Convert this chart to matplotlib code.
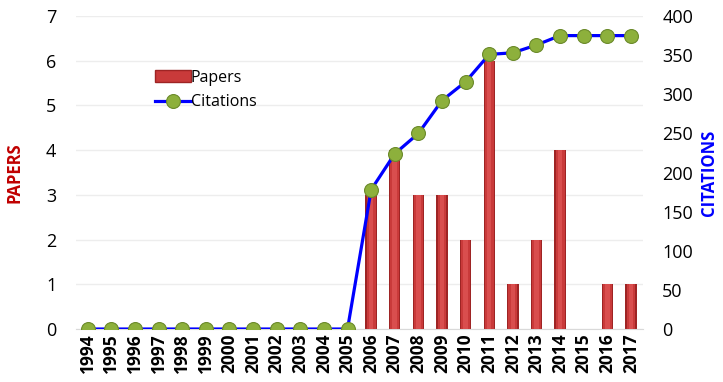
import matplotlib
matplotlib.use("Agg")
import matplotlib.pyplot as plt
import numpy as np
from matplotlib.patches import Patch
from matplotlib.lines import Line2D

years = [str(y) for y in range(1994, 2018)]
papers = [0, 0, 0, 0, 0, 0, 0, 0, 0, 0, 0, 0, 3, 4, 3, 3, 2, 6, 1, 2, 4, 0, 1, 1]
citations = [0, 0, 0, 0, 0, 0, 0, 0, 0, 0, 0, 0, 178, 224, 250, 292, 316, 351, 353, 363, 375, 375, 375, 375]
papers_ticks = list(range(0, 8))
citation_ticks = list(range(0, 401, 50))

font = "Open Sans"
fig = plt.figure(figsize=(7.23, 3.82), dpi=100)
ax = fig.add_axes([0.105, 0.1387, 0.784, 0.8193])
ax2 = ax.twinx()

x = np.arange(len(years))
w = 0.48
# bevelled bars: dark rim, red body, light core
ax.bar(x, papers, width=w, color="#9E2424", zorder=2)
ax.bar(x, papers, width=w * 0.78, color="#C93A3A", zorder=3)
ax.bar(x, papers, width=w * 0.4, color="#D94E4E", zorder=4)

ax.set_xlim(-0.5, len(years) - 0.5)
ax.set_ylim(0, 7)
ax.set_yticks(papers_ticks)
ax.yaxis.grid(True, color="#EDEDED", linewidth=1)
ax.set_axisbelow(True)
for s in ["top", "right", "left"]:
    ax.spines[s].set_visible(False)
ax.spines["bottom"].set_color("#D9D9D9")
ax.tick_params(axis="y", length=0, pad=14, labelsize=13)
ax.tick_params(axis="x", length=0, pad=3)
ax.set_xticks(x)
ax.set_xticklabels(years, rotation=90, fontsize=12.5, fontweight="bold", family=font)
for lab in ax.get_yticklabels():
    lab.set_family(font)
ax.set_ylabel("PAPERS", color="#C00000", fontweight="bold", fontsize=12, family=font, labelpad=16)

ax2.plot(x, citations, color="#0000FF", linewidth=2.3, zorder=5,
         marker="o", markersize=10, markerfacecolor="#8DB03C",
         markeredgecolor="#6B8A2A", markeredgewidth=0.8)
ax2.set_ylim(0, 400)
ax2.set_yticks(citation_ticks)
for s in ["top", "right", "left", "bottom"]:
    ax2.spines[s].set_visible(False)
ax2.tick_params(axis="y", length=0, pad=14, labelsize=13)
for lab in ax2.get_yticklabels():
    lab.set_family(font)
ax2.set_ylabel("CITATIONS", color="#0000FF", fontweight="bold", fontsize=12, family=font, labelpad=5)

handles = [
    Patch(facecolor="#C93A3A", edgecolor="#9E2424", linewidth=1),
    Line2D([0], [0], color="#0000FF", linewidth=2.3, marker="o", markersize=10,
           markerfacecolor="#8DB03C", markeredgecolor="#6B8A2A", markeredgewidth=0.8),
]
leg = ax2.legend(handles, ["Papers", "Citations"], loc="upper left",
                 bbox_to_anchor=(0.115, 0.875), frameon=False, prop={"family": font, "size": 11.5},
                 handlelength=2.2, handletextpad=0.0, labelspacing=0.55)

fig.savefig("out.png", dpi=100)
